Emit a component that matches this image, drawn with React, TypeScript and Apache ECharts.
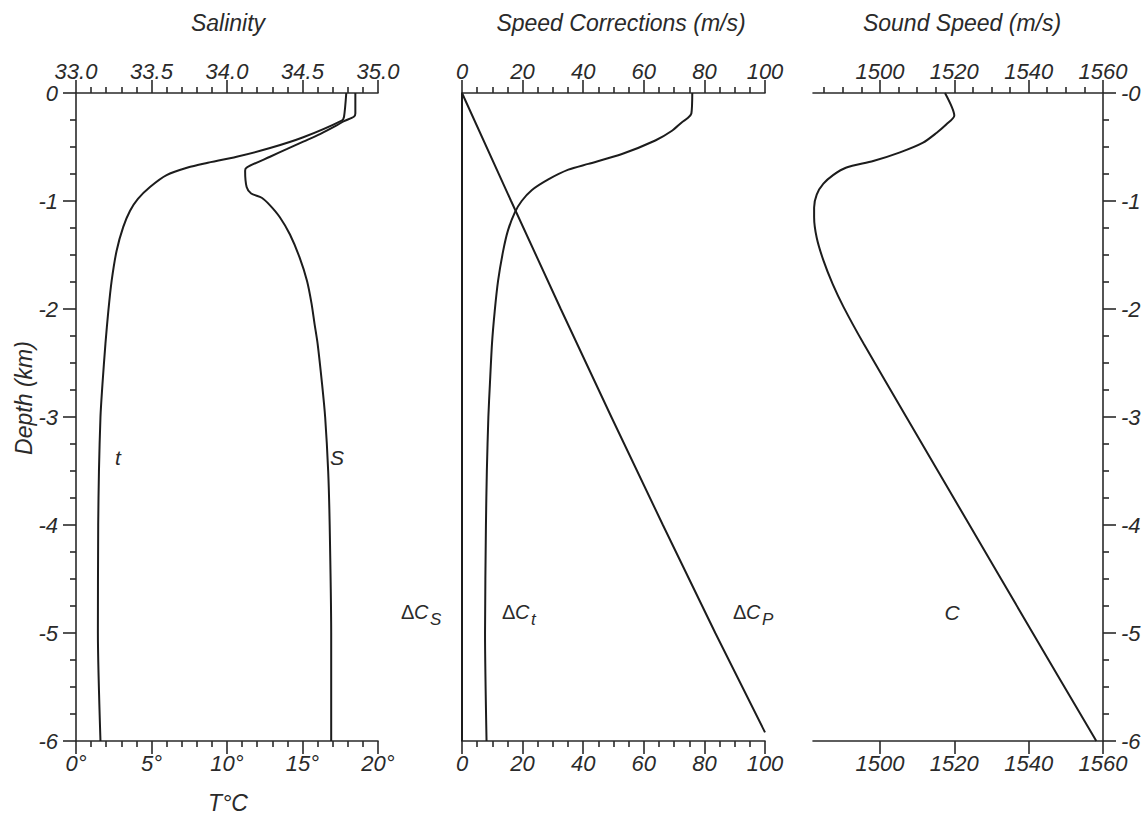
import React, { useEffect, useRef } from 'react';
import * as echarts from 'echarts';

// ---------------- data ----------------
// Temperature profile t (deg C) vs depth (km)
const tDepth = [0, -0.22, -0.256, -0.41, -0.51, -0.59, -0.65, -0.69, -0.76, -0.87, -0.98, -1.09, -1.24, -1.46, -1.74, -2.02, -2.32, -2.7, -3, -3.5, -4, -5, -6];
const tValue = [17.9, 17.75, 17.6, 15.05, 12.85, 10.64, 8.6, 7.4, 6.0, 4.9, 4.1, 3.58, 3.13, 2.69, 2.36, 2.14, 1.95, 1.75, 1.62, 1.52, 1.47, 1.45, 1.62];

// Salinity profile S vs depth (km)
const sDepth = [0, -0.19, -0.22, -0.26, -0.30, -0.38, -0.45, -0.52, -0.59, -0.69, -0.72, -0.87, -0.93, -0.97, -1.04, -1.15, -1.31, -1.52, -1.74, -1.95, -2.14, -2.32, -2.7, -3, -3.5, -4, -5, -6];
const sValue = [34.85, 34.85, 34.84, 34.775, 34.726, 34.616, 34.505, 34.395, 34.285, 34.13, 34.12, 34.13, 34.16, 34.23, 34.285, 34.35, 34.417, 34.48, 34.53, 34.56, 34.58, 34.6, 34.63, 34.65, 34.67, 34.68, 34.69, 34.69];

// Speed corrections (m/s)
const dctDepth = [0, -0.19, -0.23, -0.27, -0.35, -0.44, -0.565, -0.656, -0.71, -0.80, -0.90, -1.0, -1.105, -1.27, -1.46, -1.74, -2.02, -2.32, -2.7, -3, -3.5, -4, -5, -6];
const dctValue = [76, 75.7, 74.6, 72.6, 69.3, 63.8, 52.8, 41.7, 35.1, 28.5, 23.0, 19.7, 17.45, 15.2, 13.6, 11.9, 10.8, 9.9, 9.2, 8.7, 8.2, 7.9, 7.6, 8.1];

const dcpDepth = [0, -1, -2, -3, -4, -5, -5.92];
const dcpValue = [0, 16.2, 32.6, 49.3, 66.3, 83.6, 100];

const dcsDepth = [0, -6];
const dcsValue = [0, 0];

// Sound speed C (m/s)
const cDepth = [0, -0.21, -0.29, -0.37, -0.46, -0.55, -0.63, -0.69, -0.76, -0.84, -0.94, -1.06, -1.15, -1.34, -1.55, -1.77, -1.98, -2.32, -3, -4, -5, -6];
const cValue = [1517.5, 1520.0, 1517.9, 1515.2, 1511.6, 1505.4, 1498.2, 1491.0, 1487.4, 1484.8, 1483.0, 1482.3, 1482.3, 1483.0, 1484.8, 1487.3, 1490.2, 1495.6, 1507.1, 1524.1, 1541.1, 1558.2];

// axis tick values
const soundMajorTicks = [1500, 1520, 1540, 1560];
const soundMinorTicks = [1485, 1490, 1495, 1505, 1510, 1515, 1525, 1530, 1535, 1545, 1550, 1555];

// ---------------- styling ----------------
const INK = '#2a2a2a';
const LINE = '#1c1c1c';
const FAMILY = '"Liberation Sans", Arial, Helvetica, sans-serif';
const axisLS = { color: INK, width: 1.6 };
const TICK_FONT = 22;

const pairs = (xs: number[], ds: number[]) => xs.map((v, i) => [v, ds[i]]);

const labelStyle = { color: INK, fontFamily: FAMILY, fontSize: TICK_FONT, fontStyle: 'italic' };

function xAxisDef(gridIndex: number, position: string, min: number, max: number, interval: number | undefined, minorSplit: number, formatter: any, extra: any = {}) {
  const ax: any = {
    type: 'value',
    gridIndex,
    position,
    min,
    max,
    axisLine: { show: true, onZero: false, lineStyle: axisLS },
    axisTick: { show: true, length: 13, lineStyle: axisLS },
    minorTick: minorSplit ? { show: true, splitNumber: minorSplit, length: 6, lineStyle: axisLS } : { show: false },
    axisLabel: { show: true, margin: 11, formatter, ...labelStyle },
    splitLine: { show: false },
    minorSplitLine: { show: false },
  };
  if (interval !== undefined) ax.interval = interval;
  return { ...ax, ...extra };
}

function depthAxis(gridIndex: number, position: string, formatter: any, show: boolean) {
  return {
    type: 'value',
    gridIndex,
    position,
    min: -6,
    max: 0,
    interval: 1,
    axisLine: { show: true, onZero: false, lineStyle: axisLS },
    axisTick: { show, length: 13, lineStyle: axisLS },
    minorTick: { show, splitNumber: 4, length: 6, lineStyle: axisLS },
    axisLabel: { show, margin: 18, formatter, ...labelStyle },
    splitLine: { show: false },
    minorSplitLine: { show: false },
  };
}

function lineSeries(name: string, xi: number, yi: number, data: number[][]) {
  return {
    name,
    type: 'line',
    xAxisIndex: xi,
    yAxisIndex: yi,
    data,
    showSymbol: false,
    symbol: 'none',
    smooth: 0.25,
    lineStyle: { color: LINE, width: 2 },
    z: 3,
  };
}

function txt(text: string, x: number, y: number, size: number, align = 'center', rotation = 0, fontStyle = 'italic') {
  return {
    type: 'text',
    x,
    y,
    rotation,
    style: {
      text,
      fill: INK,
      font: `${fontStyle} ${size}px ${FAMILY}`,
      align,
      verticalAlign: 'middle',
    },
  };
}

export default function App() {
  const ref = useRef<HTMLDivElement>(null);

  useEffect(() => {
    if (!ref.current) return;
    const chart = echarts.init(ref.current, undefined, { renderer: 'svg' });

    const option: any = {
      animation: false,
      backgroundColor: '#ffffff',
      grid: [
        { left: 76, top: 93, width: 302, height: 648, containLabel: false },
        { left: 462, top: 93, width: 303, height: 648, containLabel: false },
        { left: 813, top: 93, width: 290, height: 648, containLabel: false },
      ],
      xAxis: [
        // 0: salinity (top, left panel)
        xAxisDef(0, 'top', 33, 35, 0.5, 5, (v: number) => v.toFixed(1)),
        // 1: temperature (bottom, left panel)
        xAxisDef(0, 'bottom', 0, 20, 5, 5, (v: number) => `${v}°`),
        // 2: speed corrections top
        xAxisDef(1, 'top', 0, 100, 20, 4, (v: number) => `${v}`),
        // 3: speed corrections bottom
        xAxisDef(1, 'bottom', 0, 100, 20, 4, (v: number) => `${v}`),
        // 4: sound speed top (major)
        xAxisDef(2, 'top', 1482, 1560, undefined, 0, (v: number) => `${v}`, {
          axisTick: { show: true, length: 13, lineStyle: axisLS, customValues: soundMajorTicks },
          axisLabel: { show: true, margin: 11, ...labelStyle, customValues: soundMajorTicks, formatter: (v: number) => `${v}` },
        }),
        // 5: sound speed top (minor ticks only)
        xAxisDef(2, 'top', 1482, 1560, undefined, 0, () => '', {
          axisLine: { show: false, onZero: false },
          axisTick: { show: true, length: 6, lineStyle: axisLS, customValues: soundMinorTicks },
          axisLabel: { show: false },
        }),
        // 6: sound speed bottom
        xAxisDef(2, 'bottom', 1482, 1560, undefined, 0, (v: number) => `${v}`, {
          axisTick: { show: true, length: 13, lineStyle: axisLS, customValues: soundMajorTicks },
          axisLabel: { show: true, margin: 11, ...labelStyle, customValues: soundMajorTicks, formatter: (v: number) => `${v}` },
        }),
      ],
      yAxis: [
        depthAxis(0, 'left', (v: number) => (v === 0 ? '0' : `${v}`), true),
        depthAxis(1, 'left', () => '', false),
        depthAxis(2, 'right', (v: number) => (v === 0 ? '-0' : `${v}`), true),
      ],
      series: [
        lineSeries('t', 1, 0, pairs(tValue, tDepth)),
        lineSeries('S', 0, 0, pairs(sValue, sDepth)),
        lineSeries('ΔCs', 2, 1, pairs(dcsValue, dcsDepth)),
        lineSeries('ΔCt', 2, 1, pairs(dctValue, dctDepth)),
        { ...lineSeries('ΔCp', 2, 1, pairs(dcpValue, dcpDepth)), smooth: false },
        lineSeries('C', 4, 2, pairs(cValue, cDepth)),
      ],
      graphic: [
        txt('Salinity', 228, 23, 23),
        txt('Speed Corrections (m/s)', 621, 23, 23),
        txt('Sound Speed (m/s)', 962, 23, 23),
        txt('T°C', 228, 803, 23),
        txt('Depth (km)', 24, 398, 23, 'center', Math.PI / 2),
        txt('t', 118, 457, 21),
        txt('S', 337, 457, 21),
        txt('C', 952, 612, 21),
        txt('Δ', 401, 612, 20, 'left', 0, 'normal'),
        txt('C', 414, 612, 20, 'left'),
        txt('S', 430, 619, 17, 'left'),
        txt('Δ', 502, 612, 20, 'left', 0, 'normal'),
        txt('C', 515, 612, 20, 'left'),
        txt('t', 531, 619, 17, 'left'),
        txt('Δ', 733, 612, 20, 'left', 0, 'normal'),
        txt('C', 746, 612, 20, 'left'),
        txt('P', 762, 619, 17, 'left'),
      ],
    };

    chart.setOption(option);
    return () => {
      chart.dispose();
    };
  }, []);

  return (
    <div
      ref={ref}
      style={{ position: 'fixed', left: 0, top: 0, width: 1147, height: 817, background: '#fff' }}
    />
  );
}
